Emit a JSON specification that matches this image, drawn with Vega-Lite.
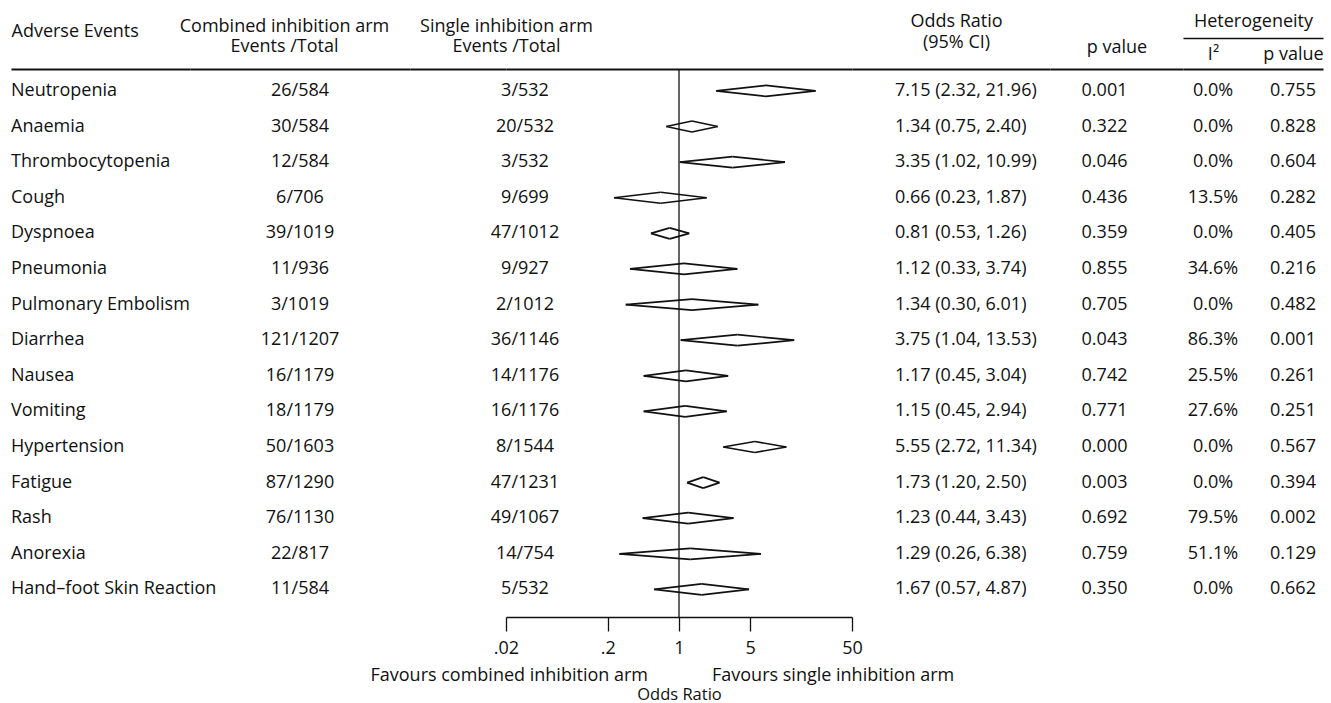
{
  "$schema": "https://vega.github.io/schema/vega-lite/v6.json",
  "background": "white",
  "padding": {"left": 11, "top": 12, "right": 8, "bottom": 0},
  "autosize": {"type": "pad"},
  "spacing": 0,
  "bounds": "flush",
  "config": {
    "view": {"stroke": null},
    "font": "Open Sans",
    "text": {"font": "Open Sans", "fontSize": 18, "color": "#111"},
    "axis": {"labelFont": "Open Sans", "titleFont": "Open Sans", "titleFontWeight": "normal", "labelColor": "#111", "titleColor": "#111", "domainColor": "#111", "tickColor": "#111", "grid": false, "titleFontSize": 18, "labelFontSize": 18, "labelAngle": 0}
  },
  "datasets": {
    "rows": [
      {"event": "Neutropenia", "comb": "26/584", "single": "3/532", "or": 7.15, "lo": 2.32, "hi": 21.96, "ci": "7.15 (2.32, 21.96)", "p": "0.001", "i2": "0.0%", "hp": "0.755"},
      {"event": "Anaemia", "comb": "30/584", "single": "20/532", "or": 1.34, "lo": 0.75, "hi": 2.40, "ci": "1.34 (0.75, 2.40)", "p": "0.322", "i2": "0.0%", "hp": "0.828"},
      {"event": "Thrombocytopenia", "comb": "12/584", "single": "3/532", "or": 3.35, "lo": 1.02, "hi": 10.99, "ci": "3.35 (1.02, 10.99)", "p": "0.046", "i2": "0.0%", "hp": "0.604"},
      {"event": "Cough", "comb": "6/706", "single": "9/699", "or": 0.66, "lo": 0.23, "hi": 1.87, "ci": "0.66 (0.23, 1.87)", "p": "0.436", "i2": "13.5%", "hp": "0.282"},
      {"event": "Dyspnoea", "comb": "39/1019", "single": "47/1012", "or": 0.81, "lo": 0.53, "hi": 1.26, "ci": "0.81 (0.53, 1.26)", "p": "0.359", "i2": "0.0%", "hp": "0.405"},
      {"event": "Pneumonia", "comb": "11/936", "single": "9/927", "or": 1.12, "lo": 0.33, "hi": 3.74, "ci": "1.12 (0.33, 3.74)", "p": "0.855", "i2": "34.6%", "hp": "0.216"},
      {"event": "Pulmonary Embolism", "comb": "3/1019", "single": "2/1012", "or": 1.34, "lo": 0.30, "hi": 6.01, "ci": "1.34 (0.30, 6.01)", "p": "0.705", "i2": "0.0%", "hp": "0.482"},
      {"event": "Diarrhea", "comb": "121/1207", "single": "36/1146", "or": 3.75, "lo": 1.04, "hi": 13.53, "ci": "3.75 (1.04, 13.53)", "p": "0.043", "i2": "86.3%", "hp": "0.001"},
      {"event": "Nausea", "comb": "16/1179", "single": "14/1176", "or": 1.17, "lo": 0.45, "hi": 3.04, "ci": "1.17 (0.45, 3.04)", "p": "0.742", "i2": "25.5%", "hp": "0.261"},
      {"event": "Vomiting", "comb": "18/1179", "single": "16/1176", "or": 1.15, "lo": 0.45, "hi": 2.94, "ci": "1.15 (0.45, 2.94)", "p": "0.771", "i2": "27.6%", "hp": "0.251"},
      {"event": "Hypertension", "comb": "50/1603", "single": "8/1544", "or": 5.55, "lo": 2.72, "hi": 11.34, "ci": "5.55 (2.72, 11.34)", "p": "0.000", "i2": "0.0%", "hp": "0.567"},
      {"event": "Fatigue", "comb": "87/1290", "single": "47/1231", "or": 1.73, "lo": 1.20, "hi": 2.50, "ci": "1.73 (1.20, 2.50)", "p": "0.003", "i2": "0.0%", "hp": "0.394"},
      {"event": "Rash", "comb": "76/1130", "single": "49/1067", "or": 1.23, "lo": 0.44, "hi": 3.43, "ci": "1.23 (0.44, 3.43)", "p": "0.692", "i2": "79.5%", "hp": "0.002"},
      {"event": "Anorexia", "comb": "22/817", "single": "14/754", "or": 1.29, "lo": 0.26, "hi": 6.38, "ci": "1.29 (0.26, 6.38)", "p": "0.759", "i2": "51.1%", "hp": "0.129"},
      {"event": "Hand–foot Skin Reaction", "comb": "11/584", "single": "5/532", "or": 1.67, "lo": 0.57, "hi": 4.87, "ci": "1.67 (0.57, 4.87)", "p": "0.350", "i2": "0.0%", "hp": "0.662"}
    ]
  },
  "data": {"name": "rows"},
  "hconcat": [
    {
      "width": 179, "height": 548,
      "mark": {"type": "text", "align": "left", "baseline": "middle"},
      "encoding": {
        "x": {"datum": "Adverse Events", "type": "nominal", "scale": {"type": "point", "align": 0},
              "axis": {"orient": "top", "labels": false, "ticks": false, "domainWidth": 2, "title": "Adverse Events", "titleAnchor": "start", "titlePadding": 29}},
        "y": {"field": "event", "type": "nominal", "axis": null, "scale": {"type": "point", "domain": ["Neutropenia","Anaemia","Thrombocytopenia","Cough","Dyspnoea","Pneumonia","Pulmonary Embolism","Diarrhea","Nausea","Vomiting","Hypertension","Fatigue","Rash","Anorexia","Hand–foot Skin Reaction"], "padding": 0.695, "align": 0.443}},
        "text": {"field": "event"}
      }
    },
    {
      "width": 220, "height": 548,
      "mark": {"type": "text", "align": "center", "baseline": "middle"},
      "encoding": {
        "x": {"datum": "Combined", "type": "nominal", "scale": {"type": "point", "align": 0.5},
              "axis": {"orient": "top", "labels": false, "ticks": false, "domainWidth": 2, "title": ["Combined inhibition arm", "Events /Total"], "titleX": 94, "titleLineHeight": 20, "titlePadding": 14}},
        "y": {"field": "event", "type": "nominal", "axis": null, "scale": {"type": "point", "domain": ["Neutropenia","Anaemia","Thrombocytopenia","Cough","Dyspnoea","Pneumonia","Pulmonary Embolism","Diarrhea","Nausea","Vomiting","Hypertension","Fatigue","Rash","Anorexia","Hand–foot Skin Reaction"], "padding": 0.695, "align": 0.443}},
        "text": {"field": "comb"}
      }
    },
    {
      "width": 96, "height": 548,
      "mark": {"type": "text", "align": "center", "baseline": "middle", "dx": 19},
      "encoding": {
        "x": {"datum": "Single", "type": "nominal", "scale": {"type": "point", "align": 1},
              "axis": {"orient": "top", "labels": false, "ticks": false, "domainWidth": 2, "title": ["Single inhibition arm", "Events /Total"], "titleX": 96, "titleLineHeight": 20, "titlePadding": 14}},
        "y": {"field": "event", "type": "nominal", "axis": null, "scale": {"type": "point", "domain": ["Neutropenia","Anaemia","Thrombocytopenia","Cough","Dyspnoea","Pneumonia","Pulmonary Embolism","Diarrhea","Nausea","Vomiting","Hypertension","Fatigue","Rash","Anorexia","Hand–foot Skin Reaction"], "padding": 0.695, "align": 0.443}},
        "text": {"field": "single"}
      }
    },
    {
      "width": 346, "height": 548,
      "resolve": {"axis": {"x": "independent"}},
      "layer": [
        {
          "data": {"values": [{}]},
          "mark": {"type": "rule", "strokeWidth": 1.3, "color": "#111"},
          "encoding": {
            "x": {"datum": 1, "type": "quantitative", "scale": {"type": "log", "domain": [0.02, 50], "nice": false, "zero": false},
                  "axis": {"orient": "bottom", "values": [0.02, 0.2, 1, 5, 50], "format": "~g", "labelExpr": "replace(datum.label, '0.', '.')", "tickSize": 14, "tickWidth": 1.3, "domainWidth": 1.3, "labelPadding": 8, "labelFlush": false, "labelOverlap": false, "title": "Odds Ratio", "titleFontSize": 16.5, "titlePadding": 29}}
          }
        },
        {
          "mark": {"type": "rule", "y2Offset": -5.5, "strokeWidth": 1.7, "color": "#111"},
          "encoding": {
            "x": {"field": "lo", "type": "quantitative", "scale": {"type": "log", "domain": [0.02, 50], "nice": false, "zero": false},
                  "axis": {"orient": "top", "labels": false, "ticks": false, "domainWidth": 2, "title": null}},
            "x2": {"field": "or"},
            "y": {"field": "event", "type": "nominal", "axis": null, "scale": {"type": "point", "domain": ["Neutropenia","Anaemia","Thrombocytopenia","Cough","Dyspnoea","Pneumonia","Pulmonary Embolism","Diarrhea","Nausea","Vomiting","Hypertension","Fatigue","Rash","Anorexia","Hand–foot Skin Reaction"], "padding": 0.695, "align": 0.443}},
            "y2": {"field": "event"}
          }
        },
        {
          "mark": {"type": "rule", "y2Offset": 5.5, "strokeWidth": 1.7, "color": "#111"},
          "encoding": {
            "x": {"field": "lo", "type": "quantitative", "axis": null},
            "x2": {"field": "or"},
            "y": {"field": "event", "type": "nominal", "axis": null},
            "y2": {"field": "event"}
          }
        },
        {
          "mark": {"type": "rule", "y2Offset": -5.5, "strokeWidth": 1.7, "color": "#111"},
          "encoding": {
            "x": {"field": "hi", "type": "quantitative", "axis": null},
            "x2": {"field": "or"},
            "y": {"field": "event", "type": "nominal", "axis": null},
            "y2": {"field": "event"}
          }
        },
        {
          "mark": {"type": "rule", "y2Offset": 5.5, "strokeWidth": 1.7, "color": "#111"},
          "encoding": {
            "x": {"field": "hi", "type": "quantitative", "axis": null},
            "x2": {"field": "or"},
            "y": {"field": "event", "type": "nominal", "axis": null},
            "y2": {"field": "event"}
          }
        },
        {
          "data": {"values": [{}]},
          "mark": {"type": "text", "text": "Favours combined inhibition arm", "align": "right", "baseline": "middle", "dx": -31, "dy": 87},
          "encoding": {
            "x": {"datum": 1, "type": "quantitative", "axis": null},
            "y": {"datum": "Hand–foot Skin Reaction", "type": "nominal", "axis": null}
          }
        },
        {
          "data": {"values": [{}]},
          "mark": {"type": "text", "text": "Favours single inhibition arm", "align": "left", "baseline": "middle", "dx": 33, "dy": 87},
          "encoding": {
            "x": {"datum": 1, "type": "quantitative", "axis": null},
            "y": {"datum": "Hand–foot Skin Reaction", "type": "nominal", "axis": null}
          }
        }
      ]
    },
    {
      "width": 198, "height": 548,
      "mark": {"type": "text", "align": "left", "baseline": "middle", "dx": 43},
      "encoding": {
        "x": {"datum": "OR", "type": "nominal", "scale": {"type": "point", "align": 0},
              "axis": {"orient": "top", "labels": false, "ticks": false, "domainWidth": 2, "title": ["Odds Ratio", "(95% CI)"], "titleX": 104, "titleLineHeight": 21, "titlePadding": 18}},
        "y": {"field": "event", "type": "nominal", "axis": null, "scale": {"type": "point", "domain": ["Neutropenia","Anaemia","Thrombocytopenia","Cough","Dyspnoea","Pneumonia","Pulmonary Embolism","Diarrhea","Nausea","Vomiting","Hypertension","Fatigue","Rash","Anorexia","Hand–foot Skin Reaction"], "padding": 0.695, "align": 0.443}},
        "text": {"field": "ci"}
      }
    },
    {
      "width": 133, "height": 548,
      "mark": {"type": "text", "align": "center", "baseline": "middle"},
      "encoding": {
        "x": {"datum": "P", "type": "nominal", "scale": {"type": "point", "align": 0.41},
              "axis": {"orient": "top", "labels": false, "ticks": false, "domainWidth": 2, "title": "p value", "titlePadding": 13}},
        "y": {"field": "event", "type": "nominal", "axis": null, "scale": {"type": "point", "domain": ["Neutropenia","Anaemia","Thrombocytopenia","Cough","Dyspnoea","Pneumonia","Pulmonary Embolism","Diarrhea","Nausea","Vomiting","Hypertension","Fatigue","Rash","Anorexia","Hand–foot Skin Reaction"], "padding": 0.695, "align": 0.443}},
        "text": {"field": "p"}
      }
    },
    {
      "width": 140, "height": 548,
      "resolve": {"axis": {"x": "independent"}},
      "layer": [
        {
          "mark": {"type": "text", "align": "center", "baseline": "middle"},
          "encoding": {
            "x": {"datum": "I²", "type": "nominal", "scale": {"type": "point", "domain": ["I²", "p value"], "padding": 0.375},
                  "axis": {"orient": "top", "labels": true, "labelAngle": 0, "labelAlign": "center", "labelBaseline": "bottom", "ticks": false, "domainWidth": 2, "labelPadding": 5.5, "title": "Heterogeneity", "titlePadding": 15}},
            "y": {"field": "event", "type": "nominal", "axis": null, "scale": {"type": "point", "domain": ["Neutropenia","Anaemia","Thrombocytopenia","Cough","Dyspnoea","Pneumonia","Pulmonary Embolism","Diarrhea","Nausea","Vomiting","Hypertension","Fatigue","Rash","Anorexia","Hand–foot Skin Reaction"], "padding": 0.695, "align": 0.443}},
            "text": {"field": "i2"}
          }
        },
        {
          "mark": {"type": "text", "align": "center", "baseline": "middle"},
          "encoding": {
            "x": {"datum": "p value", "type": "nominal",
                  "axis": {"orient": "top", "labels": false, "ticks": false, "domainWidth": 1.5, "offset": 31, "title": null}},
            "y": {"field": "event", "type": "nominal", "axis": null},
            "text": {"field": "hp"}
          }
        }
      ]
    }
  ]
}
